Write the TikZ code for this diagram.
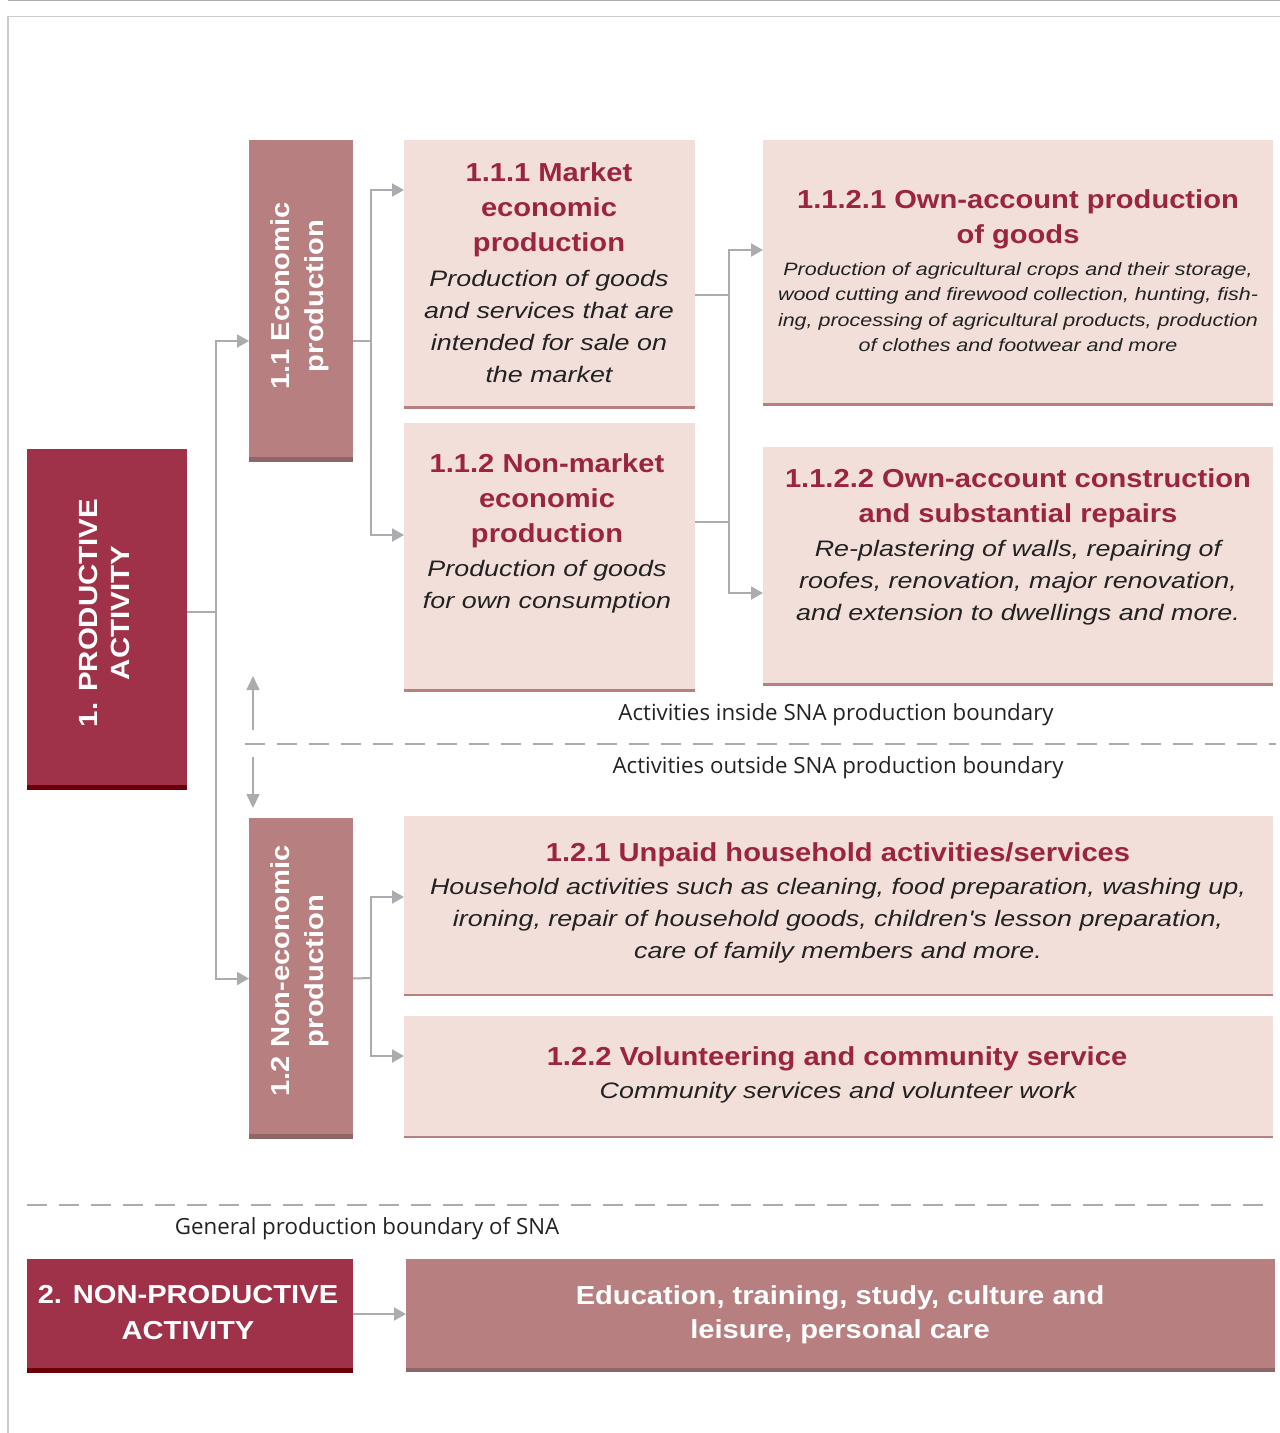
\documentclass[tikz,border=0pt]{standalone}
\usepackage{fontspec}
\usetikzlibrary{arrows.meta}
\newfontfamily\hfont[FakeStretch=1.12]{Liberation Sans}
\newfontfamily\dfont[FakeStretch=1.2]{Liberation Sans}
\newfontfamily\lfont{Open Sans}
\definecolor{darkred}{HTML}{9F3248}
\definecolor{darkband}{HTML}{6B0008}
\definecolor{midrose}{HTML}{B77F80}
\definecolor{midband}{HTML}{8E6667}
\definecolor{lightpink}{HTML}{F2DFDA}
\definecolor{headred}{HTML}{9A2442}
\definecolor{txt}{HTML}{222222}
\definecolor{linegray}{HTML}{ABACB0}
\definecolor{framegray}{HTML}{CCCCCC}
\begin{document}
\begin{tikzpicture}[x=1pt,y=-1pt,
  boxn/.style={inner sep=0pt, outer sep=0pt, anchor=north west},
  hd/.style={inner sep=0pt, align=center, text=headred, font=\hfont\bfseries\fontsize{26}{35}\selectfont},
  ds/.style={inner sep=0pt, align=center, text=txt, font=\dfont\itshape\fontsize{22.4}{32}\selectfont},
  dss/.style={inner sep=0pt, align=center, text=txt, font=\dfont\itshape\fontsize{17.9}{25.5}\selectfont},
  wt/.style={inner sep=0pt, align=center, text=white, font=\hfont\bfseries\fontsize{26}{34}\selectfont},
  lbl/.style={inner sep=0pt, text=txt, font=\lfont\fontsize{22.3}{24}\selectfont},
  conn/.style={draw=linegray, line width=2pt},
  arr/.style={conn, -{Triangle[length=12pt,width=13pt]}},
  thinarr/.style={draw=linegray, line width=1.6pt, -{Triangle[length=14pt,width=13pt]}},
  dsh/.style={draw=linegray, line width=2.5pt, dash pattern=on 20pt off 12pt}
]
\useasboundingbox (0,0) rectangle (1280,1433);
% frame
\draw[draw=framegray, line width=1.5pt] (8,1433) -- (8,16.5) -- (1280,16.5);
\draw[draw=linegray, line width=1.5pt] (8,0.7) -- (1280,0.7);

% boxes
\node[boxn, fill=darkred, minimum width=160pt, minimum height=341pt] (p1) at (27,449) {};
\fill[darkband] (p1.south west) rectangle ([yshift=5pt]p1.south east);
\node[boxn, fill=midrose, minimum width=104pt, minimum height=322pt] (e11) at (249,140) {};
\fill[midband] (e11.south west) rectangle ([yshift=5pt]e11.south east);
\node[boxn, fill=midrose, minimum width=104pt, minimum height=321pt] (n12) at (249,818) {};
\fill[midband] (n12.south west) rectangle ([yshift=5pt]n12.south east);

\node[boxn, fill=lightpink, minimum width=291pt, minimum height=269pt] (m111) at (404,140) {};
\fill[midrose] (m111.south west) rectangle ([yshift=3pt]m111.south east);
\node[boxn, fill=lightpink, minimum width=291pt, minimum height=269pt] (m112) at (404,423) {};
\fill[midrose] (m112.south west) rectangle ([yshift=3pt]m112.south east);
\node[boxn, fill=lightpink, minimum width=510pt, minimum height=266pt] (m1121) at (763,140) {};
\fill[midrose] (m1121.south west) rectangle ([yshift=3pt]m1121.south east);
\node[boxn, fill=lightpink, minimum width=510pt, minimum height=239pt] (m1122) at (763,447) {};
\fill[midrose] (m1122.south west) rectangle ([yshift=3pt]m1122.south east);
\node[boxn, fill=lightpink, minimum width=869pt, minimum height=180pt] (m121) at (404,816) {};
\fill[midrose] (m121.south west) rectangle ([yshift=2pt]m121.south east);
\node[boxn, fill=lightpink, minimum width=869pt, minimum height=122pt] (m122) at (404,1016) {};
\fill[midrose] (m122.south west) rectangle ([yshift=2pt]m122.south east);

\node[boxn, fill=darkred, minimum width=326pt, minimum height=114pt] (np2) at (27,1259) {};
\fill[darkband] (np2.south west) rectangle ([yshift=5pt]np2.south east);
\node[boxn, fill=midrose, minimum width=869pt, minimum height=113pt] (edu) at (406,1259) {};
\fill[midband] (edu.south west) rectangle ([yshift=4pt]edu.south east);

% texts
\node[wt, rotate=90, font=\hfont\bfseries\fontsize{26.3}{32}\selectfont] (t1) at (104,613) {1. PRODUCTIVE\\ACTIVITY};
\node[wt, rotate=90] (t11) at (300,296) {1.1 Economic\\production};
\node[wt, rotate=90] (t12) at (300,971) {1.2 Non-economic\\production};
\node[wt, font=\hfont\bfseries\fontsize{26}{36}\selectfont] (t2) at (188,1313) {2. NON-PRODUCTIVE\\ACTIVITY};
\node[wt] (tedu) at (840,1315) {Education, training, study, culture and\\leisure, personal care};

\node[hd] (t111h) at (549,210) {1.1.1 Market\\economic\\production};
\node[ds] (t111d) at (549,326) {Production of goods\\and services that are\\intended for sale on\\the market};
\node[hd] (t112h) at (547,501) {1.1.2 Non-market\\economic\\production};
\node[ds] (t112d) at (547,587) {Production of goods\\for own consumption};
\node[hd] (t1121h) at (1018,219) {1.1.2.1 Own-account production\\of goods};
\node[dss] (t1121d) at (1018,307) {Production of agricultural crops and their storage,\\wood cutting and firewood collection, hunting, fish-\\ing, processing of agricultural products, production\\of clothes and footwear and more};
\node[hd] (t1122h) at (1018,498) {1.1.2.2 Own-account construction\\and substantial repairs};
\node[ds] (t1122d) at (1018,583) {Re-plastering of walls, repairing of\\roofes, renovation, major renovation,\\and extension to dwellings and more.};
\node[hd] (t121h) at (838,855) {1.2.1 Unpaid household activities/services};
\node[ds] (t121d) at (838,921) {Household activities such as cleaning, food preparation, washing up,\\ironing, repair of household goods, children's lesson preparation,\\care of family members and more.};
\node[hd] (t122h) at (837,1059) {1.2.2 Volunteering and community service};
\node[ds] (t122d) at (838,1093) {Community services and volunteer work};

\node[lbl] (lin) at (836,715) {Activities inside SNA production boundary};
\node[lbl] (lout) at (838,768) {Activities outside SNA production boundary};
\node[lbl] (lgen) at (367,1229) {General production boundary of SNA};

% dashed boundaries
\coordinate (d1a) at (245,744);
\coordinate (d1b) at (1276,744);
\draw[dsh] (d1a) -- (d1b);
\coordinate (d2a) at (27,1205);
\coordinate (d2b) at (1266,1205);
\draw[dsh] (d2a) -- (d2b);
\coordinate (ua) at (253,730);
\coordinate (ub) at (253,676);
\coordinate (da) at (253,757);
\coordinate (db) at (253,808);
\draw[thinarr] (ua) -- (ub);
\draw[thinarr] (da) -- (db);

% connectors
\coordinate (j1) at (216,612);
\draw[conn] (p1.east |- j1) -- (j1);
\draw[arr] (j1) |- (e11.west |- 0,341);
\draw[arr] (j1) |- (n12.west);

\coordinate (j2) at (371,341);
\draw[conn] (e11.east |- j2) -- (j2);
\draw[arr] (j2) |- (m111.west |- 0,190);
\draw[arr] (j2) |- (m112.west |- 0,535);

\coordinate (j3a) at (729,295);
\coordinate (j3b) at (729,522);
\draw[conn] (m111.east |- j3a) -- (j3a);
\draw[conn] (m112.east |- j3b) -- (j3b);
\draw[conn] (j3a) -- (j3b);
\draw[arr] (j3a) |- (m1121.west |- 0,250);
\draw[arr] (j3b) |- (m1122.west |- 0,593);

\coordinate (j4) at (371,978);
\draw[conn] (n12.east) -- (j4);
\draw[arr] (j4) |- (m121.west |- 0,897);
\draw[arr] (j4) |- (m122.west |- 0,1056);

\draw[arr] (np2.east |- 0,1314) -- (edu.west |- 0,1314);
\end{tikzpicture}
\end{document}
